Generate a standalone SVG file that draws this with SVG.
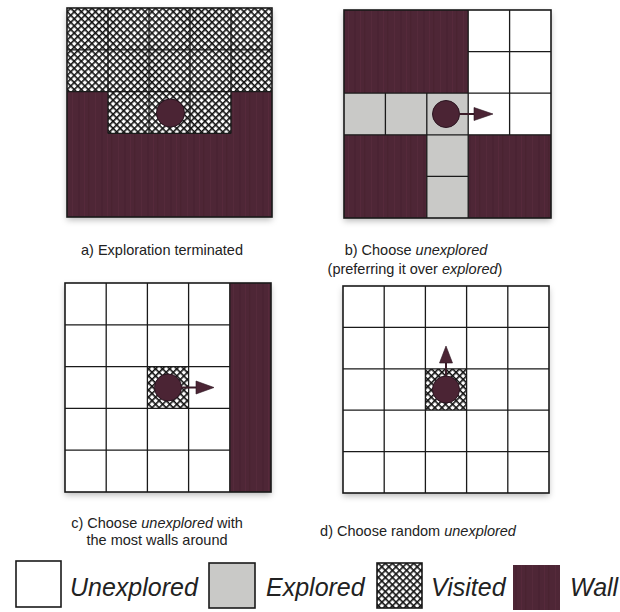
<svg xmlns="http://www.w3.org/2000/svg" width="620" height="612" viewBox="0 0 620 612">
<style>
.bg{fill:#ffffff}
.unexp{fill:#ffffff}
.exp{fill:#c9c9c7}
.vis{fill:url(#hatch)}
.wall{fill:url(#wallTex)}
.grid{stroke:#1a1a1a;stroke-width:1.3;fill:none}
.frame{fill:none;stroke:#1a1a1a;stroke-width:1.6}
.robot{fill:#4b2434;stroke:#2a1420;stroke-width:1}
.arrow{stroke:#3a1c28;stroke-width:2;fill:none}
.head{fill:#4b2434;stroke:#2a1420;stroke-width:0.6}
.cap{font-family:"Liberation Sans",Arial,sans-serif;font-size:14.5px;fill:#222;text-anchor:middle}
.leg{font-family:"Liberation Sans",Arial,sans-serif;font-size:25px;font-style:italic;fill:#222}
.lbox{stroke:#1a1a1a;stroke-width:1.6}
</style>
<defs>
<pattern id="hatch" width="5" height="5" patternUnits="userSpaceOnUse" patternTransform="rotate(45)">
<rect width="5" height="5" fill="#ffffff"/>
<rect width="5" height="1.6" fill="#111"/>
<rect width="1.6" height="5" fill="#111"/>
</pattern>
<pattern id="wallTex" width="23" height="10" patternUnits="userSpaceOnUse">
<rect width="23" height="10" fill="#4e2636"/>
<rect x="3" width="1" height="10" fill="#552a3b"/>
<rect x="9" width="2" height="10" fill="#4a2333"/>
<rect x="15" width="1" height="10" fill="#56293b"/>
<rect x="19" width="1.5" height="10" fill="#4a2331"/>
</pattern>
<filter id="shadow" x="-10%" y="-10%" width="120%" height="125%">
<feDropShadow dx="0" dy="3" stdDeviation="3" flood-color="#000" flood-opacity="0.28"/>
</filter>
</defs>
<rect width="620" height="612" fill="#ffffff"/>

<g id="panel-a">
<rect x="67" y="8" width="205" height="209" fill="#fff" filter="url(#shadow)"/>
<rect class="vis" x="67" y="8" width="205" height="83.6"/>
<rect class="vis" x="108" y="91.6" width="123" height="41.8"/>
<path class="wall" d="M67,91.6 H108 V133.4 H231 V91.6 H272 V217 H67 Z"/>
<path class="grid" d="M108,8 V133.4 M149,8 V133.4 M190,8 V133.4 M231,8 V133.4 M67,49.8 H272 M67,91.6 H272 M108,133.4 H231"/>
<rect class="frame" x="67" y="8" width="205" height="209"/>
<circle class="robot" cx="170.5" cy="113" r="14"/>
</g>

<g id="panel-b">
<rect x="344" y="10" width="207" height="208" fill="#fff" filter="url(#shadow)"/>
<rect class="wall" x="344" y="10" width="124.2" height="83.2"/>
<rect class="unexp" x="468.2" y="10" width="82.8" height="124.8"/>
<rect class="exp" x="344" y="93.2" width="124.2" height="41.6"/>
<rect class="exp" x="426.8" y="134.8" width="41.4" height="83.2"/>
<rect class="wall" x="344" y="134.8" width="82.8" height="83.2"/>
<rect class="wall" x="468.2" y="134.8" width="82.8" height="83.2"/>
<path class="grid" d="M509.6,10 V134.8 M468.2,10 V218 M385.4,93.2 V134.8 M426.8,93.2 V218 M468.2,51.6 H551 M344,93.2 H551 M344,134.8 H551 M426.8,176.4 H468.2"/>
<rect class="frame" x="344" y="10" width="207" height="208"/>
<circle class="robot" cx="446" cy="114" r="13.5"/>
</g>

<g id="panel-c">
<rect x="65" y="283" width="206" height="209" fill="#fff" filter="url(#shadow)"/>
<rect class="vis" x="147.4" y="366.6" width="41.2" height="41.8"/>
<rect class="wall" x="229.8" y="283" width="41.2" height="209"/>
<path class="grid" d="M106.2,283 V492 M147.4,283 V492 M188.6,283 V492 M229.8,283 V492 M65,324.8 H229.8 M65,366.6 H229.8 M65,408.4 H229.8 M65,450.2 H229.8"/>
<rect class="frame" x="65" y="283" width="206" height="209"/>
<circle class="robot" cx="168" cy="387.5" r="13.5"/>
</g>

<g id="panel-d">
<rect x="343" y="286" width="206" height="207" fill="#fff" filter="url(#shadow)"/>
<rect class="vis" x="425.4" y="368.8" width="41.2" height="41.4"/>
<path class="grid" d="M384.2,286 V493 M425.4,286 V493 M466.6,286 V493 M507.8,286 V493 M343,327.4 H549 M343,368.8 H549 M343,410.2 H549 M343,451.6 H549"/>
<rect class="frame" x="343" y="286" width="206" height="207"/>
<circle class="robot" cx="446" cy="389.5" r="13.5"/>
</g>

<g id="connectors">
<path class="arrow" d="M459,114 H476"/>
<path class="head" d="M474,107.5 L493,114 L474,120.5 Z"/>
<path class="arrow" d="M181,387.5 H198"/>
<path class="head" d="M196,381 L214,387.5 L196,394 Z"/>
<path class="arrow" d="M446,376 V361"/>
<path class="head" d="M439.5,363 L446,346 L452.5,363 Z"/>
</g>

<g id="captions">
<text class="cap" x="162" y="255">a) Exploration terminated</text>
<text class="cap" x="416" y="255">b) Choose <tspan font-style="italic">unexplored</tspan></text>
<text class="cap" x="415" y="274">(preferring it over <tspan font-style="italic">explored</tspan>)</text>
<text class="cap" x="157" y="528">c) Choose <tspan font-style="italic">unexplored</tspan> with</text>
<text class="cap" x="157" y="545">the most walls around</text>
<text class="cap" x="418" y="536">d) Choose random <tspan font-style="italic">unexplored</tspan></text>
</g>

<g id="legend">
<g id="legend-unexplored">
<rect class="lbox" x="16" y="561" width="45" height="46" fill="#fff"/>
<text class="leg" x="70" y="596">Unexplored</text>
</g>
<g id="legend-explored">
<rect class="lbox exp" x="209" y="563" width="46" height="45"/>
<text class="leg" x="266" y="596">Explored</text>
</g>
<g id="legend-visited">
<rect class="lbox vis" x="377" y="563" width="45" height="45"/>
<text class="leg" x="431" y="596">Visited</text>
</g>
<g id="legend-wall">
<rect class="wall" x="513" y="565" width="47" height="45"/>
<text class="leg" x="570" y="596">Wall</text>
</g>
</g>
</svg>
